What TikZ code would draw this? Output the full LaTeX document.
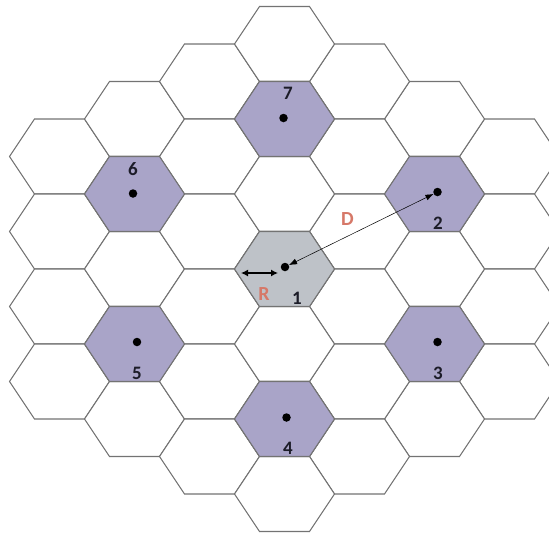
\documentclass[tikz,border=0pt]{standalone}
\usepackage{fontspec}
\setmainfont{Carlito}
\usetikzlibrary{arrows.meta}
\definecolor{hexline}{RGB}{115,115,115}
\definecolor{cochan}{RGB}{169,164,200}
\definecolor{homecell}{RGB}{190,194,200}
\definecolor{lblred}{RGB}{214,120,104}
\definecolor{lbldark}{RGB}{28,28,40}
\tikzset{
  cell/.style={draw=hexline, line width=1.05pt, line join=miter, fill=white},
  cochancell/.style={cell, fill=cochan},
  homecellst/.style={cell, fill=homecell},
  bsdot/.style={circle, fill=black, inner sep=0pt, minimum size=8.5pt},
  celllabel/.style={text=lbldark, font=\bfseries\fontsize{19}{19}\selectfont, inner sep=0pt},
  distlabel/.style={text=lblred, font=\bfseries\fontsize{20}{20}\selectfont, inner sep=0pt},
  distarrow/.style={<->, >={Latex[length=8pt,width=6pt]}, line width=0.5pt},
  radarrow/.style={<->, >={Latex[length=7pt,width=7pt]}, line width=1.3pt}
}
\newcommand\hexcell[3]{% style, cx, cy
  \path[#1] (#2-50,#3) -- (#2-25,#3-37.5) -- (#2+25,#3-37.5) -- (#2+50,#3) -- (#2+25,#3+37.5) -- (#2-25,#3+37.5) -- cycle;
}
\begin{document}
\begin{tikzpicture}[x=1pt,y=-1pt]
\useasboundingbox (0,0) rectangle (549,533);
\begin{scope}
\clip (0,0) rectangle (549,533);
% column k=-3 and k=3
\foreach \cy in {156.5,231.5,306.5,381.5} {
  \hexcell{cell}{59.5}{\cy}
  \hexcell{cell}{509.5}{\cy}
}
% column k=-2 and k=2
\foreach \cy in {119,194,269,344,419} {
  \hexcell{cell}{134.5}{\cy}
  \hexcell{cell}{434.5}{\cy}
}
% column k=-1 and k=1
\foreach \cy in {81.5,156.5,231.5,306.5,381.5,456.5} {
  \hexcell{cell}{209.5}{\cy}
  \hexcell{cell}{359.5}{\cy}
}
% column k=0
\foreach \cy in {44,119,194,269,344,419,494} {
  \hexcell{cell}{284.5}{\cy}
}
% co-channel cells
\hexcell{cochancell}{284.5}{119}
\hexcell{cochancell}{434.5}{194}
\hexcell{cochancell}{434.5}{344}
\hexcell{cochancell}{284.5}{419}
\hexcell{cochancell}{134.5}{344}
\hexcell{cochancell}{134.5}{194}
\hexcell{homecellst}{284.5}{269}
\end{scope}
% base stations
\node[bsdot] (d1) at (285,267) {};
\node[bsdot] (d2) at (437.5,192) {};
\node[bsdot] (d3) at (437.5,342) {};
\node[bsdot] (d4) at (286.5,417.5) {};
\node[bsdot] (d5) at (137,342) {};
\node[bsdot] (d6) at (133,193.5) {};
\node[bsdot] (d7) at (283.5,118) {};
% labels
\node[celllabel] (l1) at (297,298) {1};
\node[celllabel] (l2) at (438,223.5) {2};
\node[celllabel] (l3) at (438,373.5) {3};
\node[celllabel] (l4) at (288,448.5) {4};
\node[celllabel] (l5) at (137,373.5) {5};
\node[celllabel] (l6) at (133,169) {6};
\node[celllabel] (l7) at (288,93) {7};
\node[distlabel] (ld) at (347.5,219) {D};
\node[distlabel] (lr) at (264,294.5) {R};
% arrows
\draw[distarrow] (d1) -- (d2);
\coordinate (ra) at (241,273);
\coordinate (rb) at (278,273);
\draw[radarrow] (ra) -- (rb);
\end{tikzpicture}
\end{document}
